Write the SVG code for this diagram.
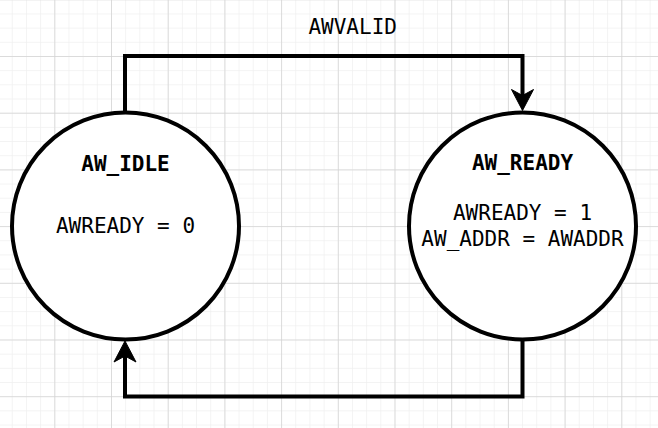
<svg xmlns="http://www.w3.org/2000/svg" width="658" height="428" viewBox="0 0 658 428">
<style>
.t{font-family:"DejaVu Sans Mono","Liberation Mono",monospace;font-size:21px;fill:#000;text-anchor:middle}
.b{font-weight:bold}
.st{fill:#fff;stroke:#000;stroke-width:4}
.ln{fill:none;stroke:#000;stroke-width:4;stroke-linejoin:miter}
.ah{fill:#000;stroke:#000;stroke-width:1}
</style>
<defs>
<pattern id="minor" x="-2.4" y="-0.7" width="14.175" height="14.175" patternUnits="userSpaceOnUse">
<path d="M0,0H14.175M0,0V14.175" fill="none" stroke="#f0f0f0" stroke-width="1.5"/>
</pattern>
<pattern id="major" x="-2.4" y="-0.7" width="56.7" height="56.7" patternUnits="userSpaceOnUse">
<path d="M0,0H56.7M0,0V56.7" fill="none" stroke="#d4d4d4" stroke-width="1.5"/>
</pattern>
</defs>
<rect width="658" height="428" fill="#fff"/>
<rect width="658" height="428" fill="url(#minor)"/>
<rect width="658" height="428" fill="url(#major)"/>
<g id="connectors">
<path class="ln" d="M125,112V56H522.5V96"/>
<path class="ah" d="M522.5,110.5L511.5,89.5L522.5,95.5L533.5,89.5Z"/>
<path class="ln" d="M522.5,340V396.5H125V356"/>
<path class="ah" d="M125,341L114,362L125,356L136,362Z"/>
<text class="t" x="352.7" y="34">AWVALID</text>
</g>
<g id="aw_idle">
<circle class="st" cx="125.5" cy="226" r="113.5"/>
<text class="t b" x="125.5" y="170.5">AW_IDLE</text>
<text class="t" x="125.5" y="232.5">AWREADY = 0</text>
</g>
<g id="aw_ready">
<circle class="st" cx="522.5" cy="226" r="113.5"/>
<text class="t b" x="522.5" y="170">AW_READY</text>
<text class="t" x="522.5" y="220">AWREADY = 1</text>
<text class="t" x="522.5" y="246">AW_ADDR = AWADDR</text>
</g>
</svg>
